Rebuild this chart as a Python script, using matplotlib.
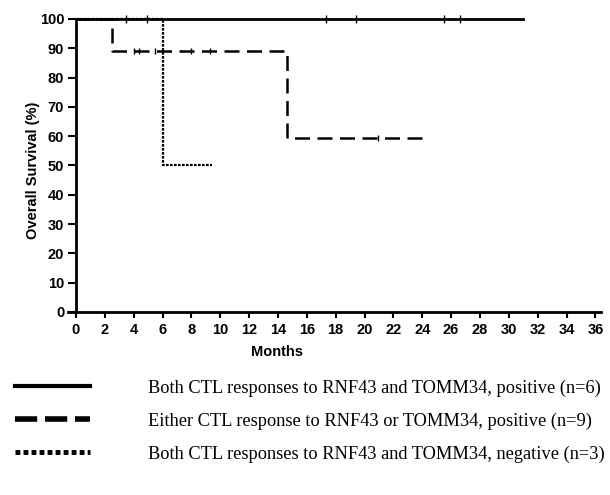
import numpy as np
import matplotlib.pyplot as plt
from matplotlib.lines import Line2D

# Kaplan-Meier Stufen (Monate, Überleben %)
both_pos_t = [0, 31.0]
both_pos_s = [100, 100]
both_pos_cens = [3.5, 4.9, 17.3, 19.4, 25.5, 26.6]

either_pos_t = [0, 2.5, 14.6, 24.5]
either_pos_s = [100, 88.9, 59.3, 59.3]
either_pos_cens_t = [4.0, 4.4, 5.5, 8.0, 9.3, 20.9]
either_pos_cens_s = [88.9, 88.9, 88.9, 88.9, 88.9, 59.3]

both_neg_t = [0, 6.0, 9.4]
both_neg_s = [100, 50, 50]

labels = ['Both CTL responses to RNF43 and TOMM34, positive (n=6)',
          'Either CTL response to RNF43 or TOMM34, positive (n=9)',
          'Both CTL responses to RNF43 and TOMM34, negative (n=3)']

x_ticks = np.arange(0, 37, 2)
y_ticks = np.arange(0, 101, 10)

fig = plt.figure(figsize=(6.1, 4.95), dpi=100)
ax = fig.add_axes([0.1115, 0.3697, 0.874, 0.592])

solid_style = dict(color='black', linestyle='-', linewidth=2.0)
dash_style = dict(color='black', linestyle=(0, (6, 3)), linewidth=1.8)
dot_style = dict(color='black', linestyle=(0, (1.2, 0.6)), linewidth=1.6)

ax.step(both_pos_t, both_pos_s, where='post', clip_on=False, **solid_style)
ax.plot(both_pos_cens, [100] * len(both_pos_cens), linestyle='none', marker='|',
        color='black', markersize=6, clip_on=False)

ax.step(either_pos_t, either_pos_s, where='post', clip_on=False, **dash_style)
ax.plot(either_pos_cens_t, either_pos_cens_s, linestyle='none', marker='|',
        color='black', markersize=5, clip_on=False)

ax.step(both_neg_t, both_neg_s, where='post', clip_on=False, **dot_style)

ax.set_xlim(-0.55, 36.4)
ax.set_ylim(0, 100)
ax.spines['left'].set_position(('data', 0))
ax.spines['top'].set_visible(False)
ax.spines['right'].set_visible(False)
ax.spines['left'].set_linewidth(2)
ax.spines['bottom'].set_linewidth(2)

ax.set_xticks(x_ticks)
ax.set_yticks(y_ticks)
ax.tick_params(axis='x', direction='out', length=4.5, width=1.5, labelsize=10.5, pad=3.5)
ax.tick_params(axis='y', direction='out', length=6, width=1.5, labelsize=10.5, pad=2.5)
for lab in ax.get_xticklabels() + ax.get_yticklabels():
    lab.set_fontfamily('Liberation Sans')
    lab.set_fontweight('bold')

ax.set_xlabel('Months', fontsize=10.5, family='Liberation Sans', fontweight='bold')
ax.xaxis.set_label_coords(0.392, -0.111)
ax.set_ylabel('Overall Survival (%)', fontsize=10.5, family='Liberation Sans', fontweight='bold')
ax.yaxis.set_label_coords(-0.052, 0.485)

# Legende unter dem Diagramm
handles = [Line2D([], [], color='black', linestyle='-', linewidth=3),
           Line2D([], [], color='black', linestyle=(0, (4, 1.4)), linewidth=4),
           Line2D([], [], color='black', linestyle=(0, (1, 0.65)), linewidth=3.5)]
fig.legend(handles, labels, loc='upper left', bbox_to_anchor=(0.0125, 0.2487),
           borderaxespad=0, frameon=False, handlelength=4.1, handletextpad=3.15,
           labelspacing=0.86, prop={'family': 'Liberation Serif', 'size': 13.2})

plt.savefig('out.png', dpi=100)
